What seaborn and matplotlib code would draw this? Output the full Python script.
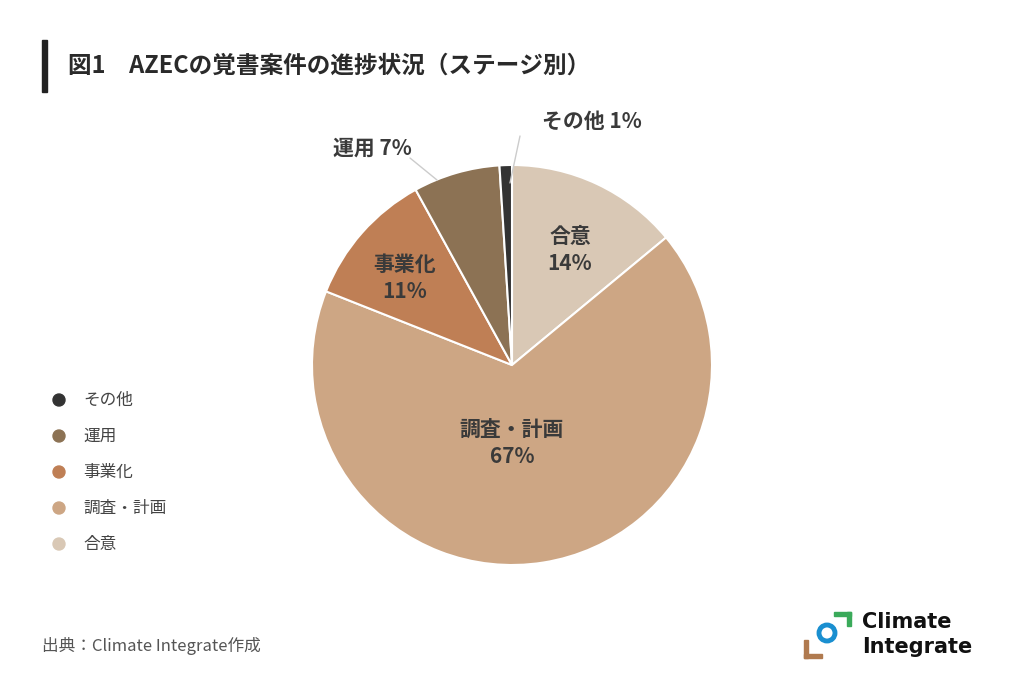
import matplotlib
matplotlib.use("Agg")
import matplotlib.pyplot as plt
import seaborn as sns
from matplotlib.patches import Rectangle, Ellipse

sns.set_style("white")
plt.rcParams['font.family'] = ['Noto Sans CJK JP', 'DejaVu Sans']

labels = ['合意', '調査・計画', '事業化', '運用', 'その他']
values = [14, 67, 11, 7, 1]
colors = ['#d9c8b5', '#cda684', '#bf7f55', '#8c7254', '#333333']
legend_order = ['その他', '運用', '事業化', '調査・計画', '合意']

W, H = 1024, 683
fig = plt.figure(figsize=(10.24, 6.83), dpi=100)
ax = fig.add_axes([(512-200)/W, 1 - (365+200)/H, 400/W, 400/H])
wedges, _ = ax.pie(values, colors=colors, startangle=90, counterclock=False,
                   wedgeprops=dict(edgecolor='white', linewidth=1.5))
ax.set_xlim(-1, 1); ax.set_ylim(-1, 1)
ax.set_aspect('equal')

tc = '#3a3a3a'
def put(x, y, s, **kw):
    fig.text(x/W, 1 - y/H, s, ha='center', va='center', color=tc, fontsize=15, fontweight='bold', **kw)
put(570, 250, '合意\n14%', linespacing=1.4)
put(512, 443, '調査・計画\n67%', linespacing=1.4)
put(405, 278, '事業化\n11%', linespacing=1.4)
put(372, 148, '運用 7%')
put(592, 121, 'その他 1%')
fig.add_artist(plt.Line2D([410/W, 437/W], [1-158/H, 1-180/H], color='#cccccc', lw=1))
fig.add_artist(plt.Line2D([520/W, 510/W], [1-136/H, 1-183/H], color='#cccccc', lw=1))

fig.add_artist(Rectangle((42/W, 1-92/H), 5/W, 52/H, color='#222222', transform=fig.transFigure))
fig.text(68/W, 1-66/H, '図1　AZECの覚書案件の進捗状況（ステージ別）', fontsize=17, fontweight='bold', color='#2a2a2a', va='center')

def circ(x, y, r, **kw):
    fig.add_artist(Ellipse((x/W, 1-y/H), 2*r/W, 2*r/H, transform=fig.transFigure, **kw))

for i, name in enumerate(legend_order):
    y = 400 + i*36
    circ(59, y, 6, color=colors[labels.index(name)])
    fig.text(83/W, 1-y/H, name, fontsize=12, color='#444444', va='center')

fig.text(42/W, 1-646/H, '出典：Climate Integrate作成', fontsize=12, color='#555555', va='center')

fig.add_artist(Rectangle((834/W, 1-616/H), 17/W, 4/H, color='#3aaa5a', transform=fig.transFigure))
fig.add_artist(Rectangle((847/W, 1-626/H), 4/W, 14/H, color='#3aaa5a', transform=fig.transFigure))
fig.add_artist(Rectangle((804/W, 1-658/H), 4/W, 18/H, color='#b07a4f', transform=fig.transFigure))
fig.add_artist(Rectangle((804/W, 1-658/H), 18/W, 4/H, color='#b07a4f', transform=fig.transFigure))
circ(827, 633, 8, facecolor='white', edgecolor='#1a8fd0', lw=3.5)
fig.text(862/W, 1-622/H, 'Climate', fontsize=15, fontweight='bold', color='#111111', va='center', family='DejaVu Sans')
fig.text(862/W, 1-647/H, 'Integrate', fontsize=15, fontweight='bold', color='#111111', va='center', family='DejaVu Sans')

fig.savefig('out.png', dpi=100)
